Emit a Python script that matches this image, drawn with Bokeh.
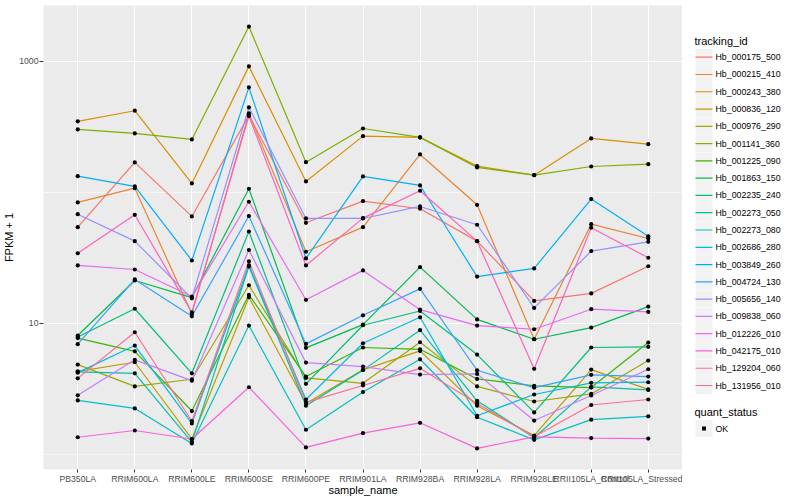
import math
from bokeh.plotting import figure
from bokeh.layouts import row
from bokeh.models import Range1d, FixedTicker
from bokeh.core.properties import value
from bokeh.embed import file_html
from bokeh.resources import INLINE

samples = ["PB350LA", "RRIM600LA", "RRIM600LE", "RRIM600SE", "RRIM600PE", "RRIM901LA",
           "RRIM928BA", "RRIM928LA", "RRIM928LE", "RRII105LA_Control", "RRII105LA_Stressed"]

tracking_ids = ["Hb_000175_500", "Hb_000215_410", "Hb_000243_380", "Hb_000836_120", "Hb_000976_290",
                "Hb_001141_360", "Hb_001225_090", "Hb_001863_150", "Hb_002235_240", "Hb_002273_050",
                "Hb_002273_080", "Hb_002686_280", "Hb_003849_260", "Hb_004724_130", "Hb_005656_140",
                "Hb_009838_060", "Hb_012226_010", "Hb_042175_010", "Hb_129204_060", "Hb_131956_010"]

colors = ["#F8766D", "#EA8331", "#D89000", "#C09B00", "#A3A500", "#7CAE00", "#39B600", "#00BB4E",
          "#00BF7D", "#00C1A3", "#00BFC4", "#00BAE0", "#00B0F6", "#35A2FF", "#9590FF", "#C77CFF",
          "#E76BF3", "#FA62DB", "#FF62BC", "#FF6C91"]

quant_status = ["OK"]

# FPKM + 1 per sample (same order as samples)
hb_000175_500 = [54.1, 168.6, 65.3, 385, 58.4, 85.4, 74.7, 42.3, 14.8, 16.9, 27.2]
hb_000215_410 = [83.5, 107.3, 11.8, 399, 35.1, 54.1, 194, 80.1, 7.55, 57.0, 44.3]
hb_000243_380 = [346.7, 418, 116.5, 911, 120.7, 267.5, 261.6, 157.9, 134.8, 257, 232.4]
hb_000836_120 = [4.30, 5.04, 1.31, 15.8, 2.44, 4.41, 6.15, 2.35, 1.39, 4.43, 3.13]
hb_000976_290 = [4.84, 3.30, 3.74, 19.5, 3.83, 3.48, 7.16, 3.30, 2.53, 2.89, 5.19]
hb_001141_360 = [301, 280.5, 252.5, 1832, 169.4, 306, 261.6, 154.4, 135, 157, 163.6]
hb_001225_090 = [7.71, 6.11, 2.14, 16.5, 3.92, 6.53, 6.33, 3.76, 3.33, 3.23, 7.12]
hb_001863_150 = [8.06, 21.2, 15.7, 106.2, 6.49, 9.77, 26.8, 10.7, 7.55, 9.27, 13.4]
hb_002235_240 = [7.85, 12.9, 4.15, 50.1, 3.45, 9.66, 12.4, 5.77, 2.09, 6.53, 6.61]
hb_002273_050 = [4.26, 4.15, 1.24, 27.1, 2.35, 4.39, 8.85, 2.56, 1.34, 3.27, 3.10]
hb_002273_080 = [2.58, 2.24, 1.21, 9.6, 1.54, 2.99, 5.31, 1.92, 1.29, 1.84, 1.95]
hb_002686_280 = [4.20, 6.76, 1.72, 27.6, 2.62, 7.04, 11.1, 1.97, 2.86, 3.51, 3.55]
hb_003849_260 = [132.5, 110.6, 30.1, 630, 31.2, 131.8, 112.5, 22.7, 26.2, 88.5, 46.1]
hb_004724_130 = [6.92, 21.6, 11.3, 65.8, 6.96, 11.5, 18.3, 4.38, 3.23, 4.04, 3.92]
hb_005656_140 = [67.9, 42.3, 15.5, 443, 63.0, 63.0, 77.8, 56.4, 13.1, 35.5, 41.8]
hb_009838_060 = [2.82, 5.26, 3.65, 36.2, 5.01, 4.67, 4.06, 4.11, 1.81, 2.81, 4.46]
hb_012226_010 = [27.6, 25.7, 16.0, 84.5, 15.1, 25.3, 12.7, 9.6, 9.0, 12.8, 12.2]
hb_042175_010 = [1.35, 1.52, 1.31, 3.25, 1.13, 1.45, 1.74, 1.11, 1.36, 1.33, 1.32]
hb_129204_060 = [34.2, 67.2, 12.1, 381.6, 27.6, 63.4, 102.5, 42.3, 4.49, 53.5, 31.6]
hb_131956_010 = [3.80, 8.54, 1.79, 29.7, 2.49, 3.35, 4.53, 2.44, 1.36, 2.38, 2.62]

series = [hb_000175_500, hb_000215_410, hb_000243_380, hb_000836_120, hb_000976_290,
          hb_001141_360, hb_001225_090, hb_001863_150, hb_002235_240, hb_002273_050,
          hb_002273_080, hb_002686_280, hb_003849_260, hb_004724_130, hb_005656_140,
          hb_009838_060, hb_012226_010, hb_042175_010, hb_129204_060, hb_131956_010]

y_ticks = [10, 1000]
y_minor = [1, 100]

FONT = "Liberation Sans"
xs = list(range(1, len(samples) + 1))

all_vals = [v for s in series for v in s]
lo, hi = math.log10(min(all_vals)), math.log10(max(all_vals))
pad = 0.05 * (hi - lo)

p = figure(frame_width=639, frame_height=464,
           x_range=Range1d(0.4, len(samples) + 0.6),
           y_range=Range1d(10 ** (lo - pad), 10 ** (hi + pad)),
           y_axis_type="log", output_backend="svg", toolbar_location=None,
           min_border_left=37, min_border_right=0, min_border_top=5, min_border_bottom=0,
           background_fill_color="#EBEBEB", border_fill_color="white", outline_line_color=None)

xt = FixedTicker(ticks=xs)
p.xaxis.ticker = xt
p.xgrid.ticker = xt
p.xaxis.major_label_overrides = {x: s for x, s in zip(xs, samples)}
yt = FixedTicker(ticks=y_ticks, minor_ticks=y_minor)
p.yaxis.ticker = yt
p.ygrid.ticker = yt
p.yaxis.major_label_overrides = {t: str(t) for t in y_ticks}

for ax in (p.xaxis[0], p.yaxis[0]):
    ax.axis_line_color = None
    ax.major_tick_line_color = "#333333"
    ax.major_tick_in = 0
    ax.minor_tick_line_color = None
    ax.major_label_text_font = FONT
    ax.major_label_text_font_size = "8.7px"
    ax.major_label_text_color = "#4D4D4D"
    ax.major_label_standoff = 1
    ax.axis_label_text_font = FONT
    ax.axis_label_text_font_size = "11px"
    ax.axis_label_text_font_style = "normal"
    ax.axis_label_text_color = "black"
p.xaxis.major_tick_out = 3
p.yaxis.major_tick_out = 4
p.xaxis.axis_label_standoff = -3
p.yaxis.axis_label_standoff = 1

p.xaxis.axis_label = "sample_name"
p.yaxis.axis_label = "FPKM + 1"

p.xgrid.grid_line_color = "white"
p.xgrid.grid_line_width = 1.1
p.ygrid.grid_line_color = "white"
p.ygrid.grid_line_width = 1.1
p.ygrid.minor_grid_line_color = "white"
p.ygrid.minor_grid_line_width = 0.55

for col, vals in zip(colors, series):
    p.line(xs, vals, line_color=col, line_width=1.2)

px, py = [], []
for vals in series:
    px.extend(xs)
    py.extend(vals)
p.scatter(x=px, y=py, marker="circle", size=4.2, fill_color="black", line_color=None)

# ---- legend panel (separate figure, pixel coordinates, y downward; its top sits 5px below page top) ----
LW, LH = 108, 489
lg = figure(frame_width=LW, frame_height=LH, x_range=Range1d(0, LW), y_range=Range1d(LH, 0),
            output_backend="svg", toolbar_location=None,
            min_border_left=0, min_border_right=0, min_border_top=0, min_border_bottom=0,
            x_axis_location=None, y_axis_location=None, outline_line_color=None,
            background_fill_color="white", border_fill_color="white")
lg.grid.visible = False

KEY = 17.28
key_x0, key_x1 = 13.0, 30.0
key_xc = (key_x0 + key_x1) / 2
first_y = 51.7
item_y = [first_y + i * KEY for i in range(len(tracking_ids))]

lg.text(x=[12], y=[first_y - 16], text=["tracking_id"], text_font=value(FONT), text_font_size="11px",
        text_baseline="middle", text_color="black")
lg.rect(x=[key_xc] * len(item_y), y=item_y, width=17, height=17, fill_color="#F2F2F2", line_color=None)
lg.segment(x0=[key_x0] * len(item_y), y0=item_y, x1=[key_x1] * len(item_y), y1=item_y,
           line_color=colors, line_width=1.2)
lg.text(x=[key_x1 + 3] * len(item_y), y=item_y, text=tracking_ids, text_font=value(FONT),
        text_font_size="8.8px", text_baseline="middle", text_color="black")

qs_title_y = item_y[-1] + 26.3
qs_y = [qs_title_y + 16.7 + i * KEY for i in range(len(quant_status))]
lg.text(x=[12], y=[qs_title_y], text=["quant_status"], text_font=value(FONT), text_font_size="11px",
        text_baseline="middle", text_color="black")
lg.rect(x=[key_xc] * len(qs_y), y=qs_y, width=17, height=17, fill_color="#F2F2F2", line_color=None)
lg.scatter(x=[key_xc] * len(qs_y), y=qs_y, marker="square", size=4, fill_color="black", line_color=None)
lg.text(x=[key_x1 + 3] * len(qs_y), y=qs_y, text=quant_status, text_font=value(FONT),
        text_font_size="8.8px", text_baseline="middle", text_color="black")

layout = row(p, lg)
open("out.html", "w").write(file_html(layout, INLINE))
